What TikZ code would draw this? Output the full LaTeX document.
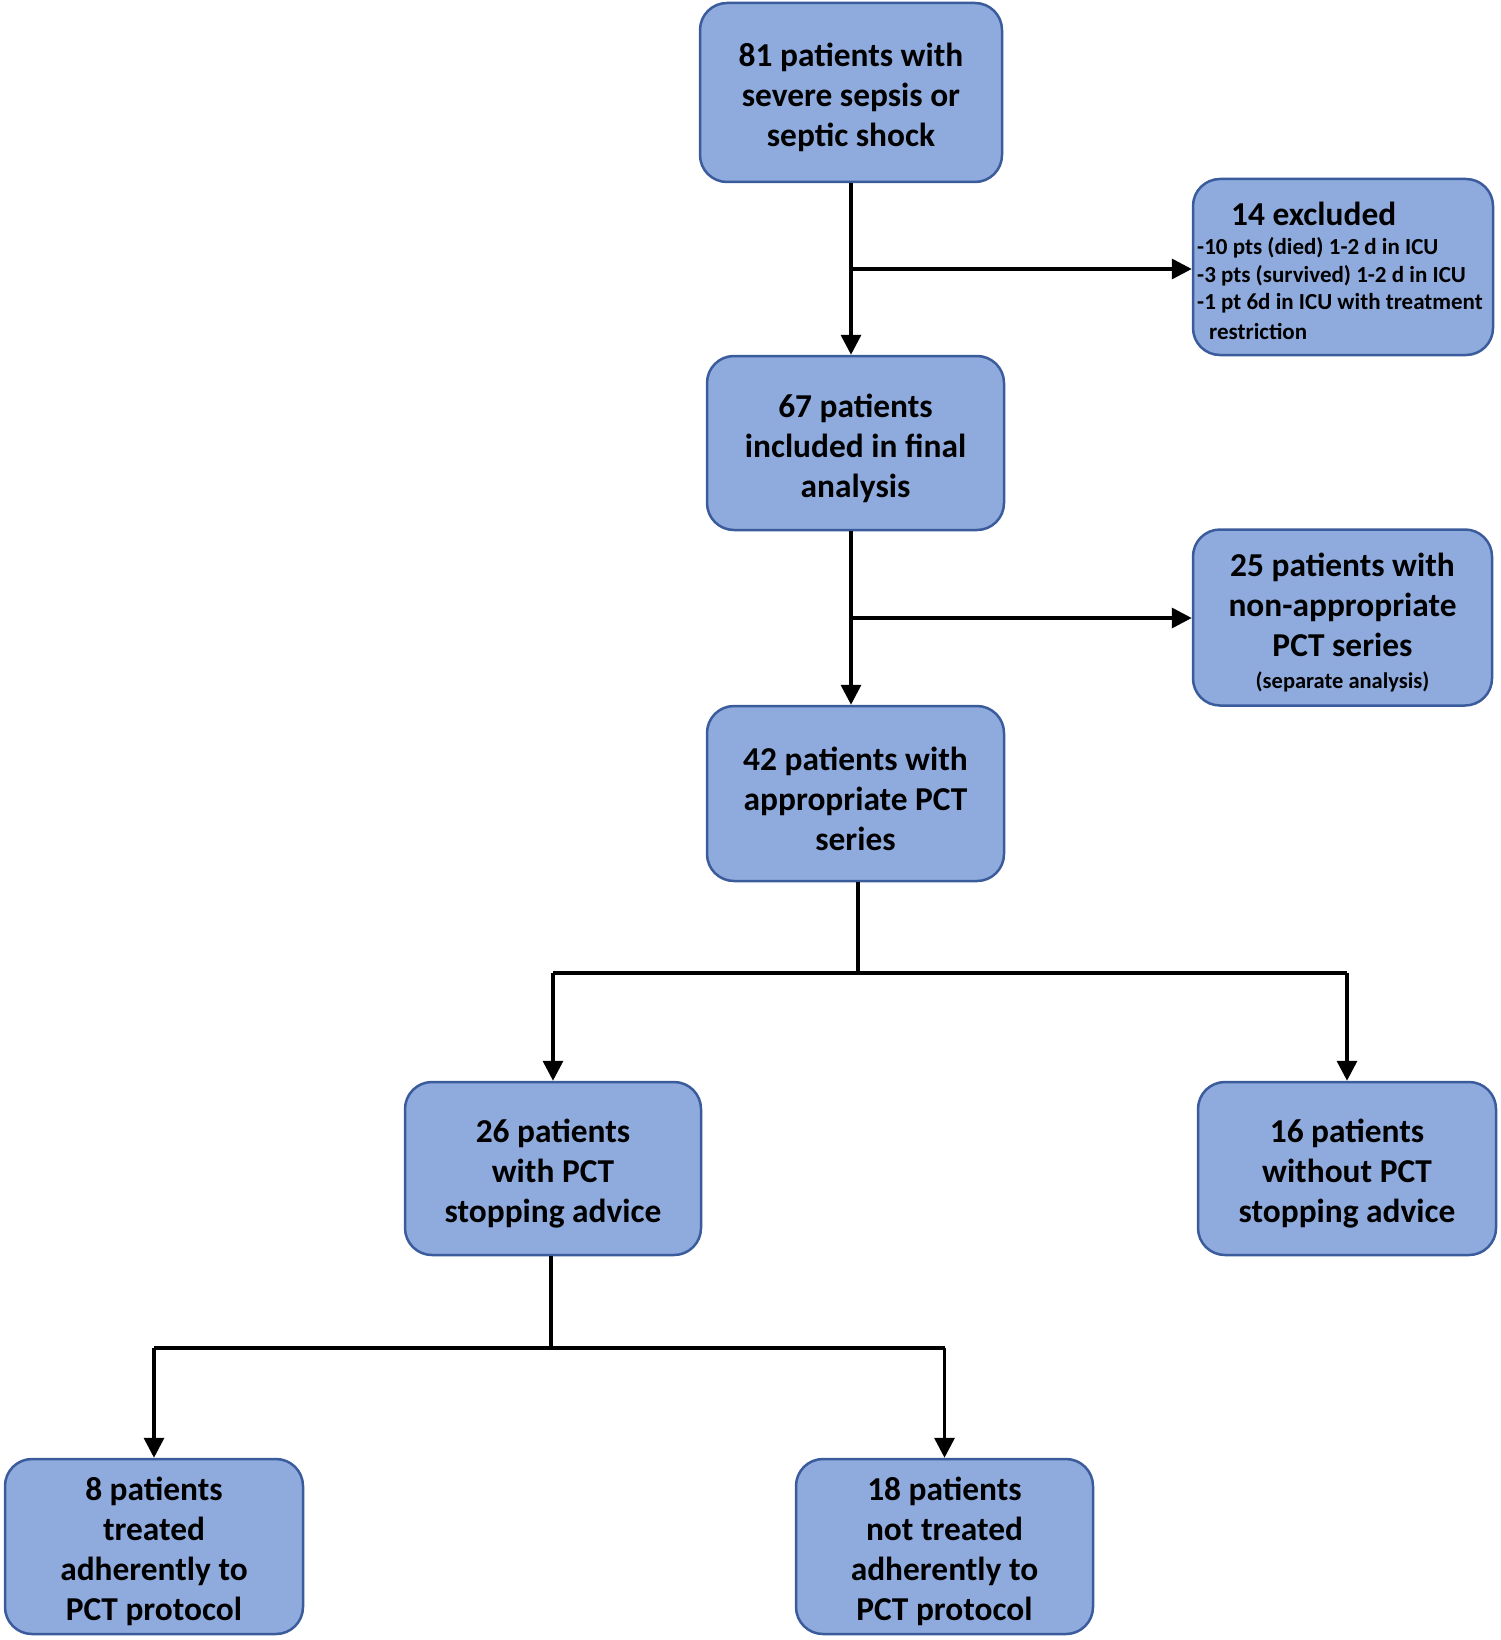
\documentclass[tikz,border=0pt]{standalone}
\usepackage{fontspec}
\setmainfont{Carlito}
\usetikzlibrary{arrows.meta}
\definecolor{boxfill}{HTML}{8FAADC}
\definecolor{boxline}{HTML}{3A5C9C}
\newcommand\topstrut{\rule{0pt}{34pt}}
\tikzset{
  box/.style={draw=boxline, line width=2.5pt, fill=boxfill, rounded corners=27pt,
    inner sep=0pt, align=center, font=\fontsize{33.4}{40}\selectfont\bfseries},
  plainbox/.style={draw=boxline, line width=2.5pt, fill=boxfill, rounded corners=27pt, inner sep=0pt},
  arr/.style={line width=3.5pt, -{Triangle[length=20pt,width=20pt]}},
  ln/.style={line width=3.5pt},
  small/.style={font=\fontsize{23}{27.5}\selectfont\bfseries, inner sep=0pt, anchor=west}
}
\begin{document}
\begin{tikzpicture}[x=1pt,y=-1pt]
\useasboundingbox (0,0) rectangle (1500,1640);
\node[box, minimum width=302pt, minimum height=179pt] (n81) at (851,92.5) {\topstrut 81 patients with\\severe sepsis or\\septic shock};
\node[plainbox, minimum width=300pt, minimum height=176pt] (nex) at (1343,267) {};
\node[font=\fontsize{33.4}{40}\selectfont\bfseries, inner sep=0pt, anchor=west] (ex1) at (1231,214) {14 excluded};
\node[small] (ex2) at (1197,248) {-10 pts (died) 1-2 d in ICU};
\node[small] (ex3) at (1197,275.5) {-3 pts (survived) 1-2 d in ICU};
\node[small] (ex4) at (1197,303) {-1 pt 6d in ICU with treatment};
\node[small] (ex5) at (1209,331) {restriction};
\node[box, minimum width=297pt, minimum height=174pt] (n67) at (855.5,443) {\topstrut 67 patients\\included in final\\analysis};
\node[box, minimum width=299pt, minimum height=176pt] (n25) at (1342.5,617.5) {\topstrut 25 patients with\\non-appropriate\\PCT series\\[-8pt]{\fontsize{22.5}{26}\selectfont (separate analysis)}};
\node[box, minimum width=297pt, minimum height=175pt] (n42) at (855.5,793.5) {\topstrut 42 patients with\\appropriate PCT\\series};
\node[box, minimum width=296pt, minimum height=173pt] (n26) at (553,1168.5) {\topstrut 26 patients\\with PCT\\stopping advice};
\node[box, minimum width=298pt, minimum height=173pt] (n16) at (1347,1168.5) {\topstrut 16 patients\\without PCT\\stopping advice};
\node[box, minimum width=298pt, minimum height=175pt] (n8) at (154,1546.5) {\topstrut 8 patients\\treated\\adherently to\\PCT protocol};
\node[box, minimum width=297pt, minimum height=175pt] (n18) at (944.5,1546.5) {\topstrut 18 patients\\not treated\\adherently to\\PCT protocol};
% connectors
\draw[arr] (n81.south) -- (n81.south |- n67.north);
\coordinate (j1) at (851,269);
\draw[arr] (j1) -- (j1 -| nex.west);
\draw[arr] (n67.south -| n81.south) -- (n81.south |- n42.north);
\coordinate (j2) at (851,618);
\draw[arr] (j2) -- (j2 -| n25.west);
\coordinate (j3) at (858,973);
\draw[ln] (n42.south -| j3) -- (j3);
\draw[ln] (j3 -| n26.north) -- (j3 -| n16.north);
\draw[arr] (j3 -| n26.north) -- (n26.north);
\draw[arr] (j3 -| n16.north) -- (n16.north);
\coordinate (j4) at (551,1348);
\draw[ln] (n26.south -| j4) -- (j4);
\draw[ln] (j4 -| n8.north) -- (j4 -| n18.north);
\draw[arr] (j4 -| n8.north) -- (n8.north);
\draw[arr] (j4 -| n18.north) -- (n18.north);
\end{tikzpicture}
\end{document}
